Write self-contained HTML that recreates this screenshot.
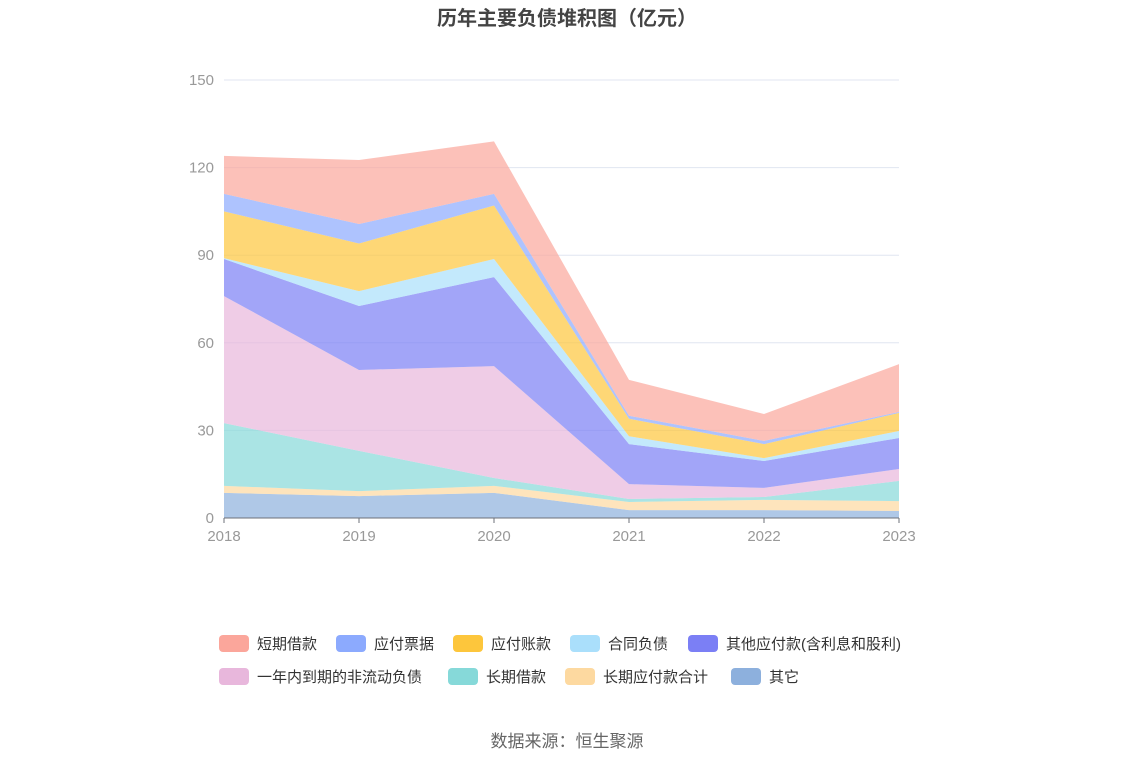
<!DOCTYPE html>
<html><head><meta charset="utf-8"><style>
body{margin:0;background:#fff;font-family:"Liberation Sans","Noto Sans CJK SC",sans-serif;}
#wrap{position:relative;width:1134px;height:766px;overflow:hidden;}
</style></head><body>
<div id="wrap">
<svg id="chart" width="1134" height="766">
<text x="567" y="25" text-anchor="middle" font-size="20" font-weight="bold" fill="#444" font-family="Liberation Sans,Noto Sans CJK SC,sans-serif">历年主要负债堆积图（亿元）</text>
<g id="grid"></g><g id="areas"></g><g id="axes"></g><g id="legend"></g>
<text x="567" y="747" text-anchor="middle" font-size="17" fill="#666" font-family="Liberation Sans,Noto Sans CJK SC,sans-serif">数据来源：恒生聚源</text>
</svg>
</div>
<script>
const years=["2018","2019","2020","2021","2022","2023"];
const yTicks=[0,30,60,90,120,150];
const seriesNames=["其它","长期应付款合计","长期借款","一年内到期的非流动负债","其他应付款(含利息和股利)","合同负债","应付账款","应付票据","短期借款"];
const s_qita=[8.6,7.5,8.6,2.7,2.7,2.4];
const s_cqyf=[2.4,1.7,2.4,2.8,3.5,3.4];
const s_cqjk=[21.5,13.8,2.7,1.0,1.0,6.9];
const s_ynn=[43.5,27.7,38.3,5.1,3.1,4.1];
const s_qtyf=[12.7,21.9,30.5,13.7,9.2,10.6];
const s_htfz=[0.3,5.1,6.2,2.7,1.0,2.4];
const s_yfzk=[16.0,16.3,18.3,6.0,4.8,6.2];
const s_yfpj=[6.0,6.7,4.0,1.0,1.1,0.3];
const s_dqjk=[13.0,21.9,18.0,12.3,9.2,16.4];
const seriesData=[s_qita,s_cqyf,s_cqjk,s_ynn,s_qtyf,s_htfz,s_yfzk,s_yfpj,s_dqjk];
const colors=["#8db0dd","#fdd9a0","#86d9d9","#e8b7dc","#7b7ff5","#aadffb","#fdc63c","#8caafe","#fba69b"];
const slugs=["other","long-term-payables","long-term-loans","current-noncurrent-liabilities","other-payables","contract-liabilities","accounts-payable","notes-payable","short-term-loans"];
const NS="http://www.w3.org/2000/svg";
const x0=224,x1=899,y0=518,y1=80,ymax=150;
const X=i=>x0+(x1-x0)*i/(years.length-1);
const Y=v=>y0-(y0-y1)*v/ymax;
function mk(t,a,p){const e=document.createElementNS(NS,t);for(const k in a)e.setAttribute(k,a[k]);p.appendChild(e);return e;}
const grid=document.getElementById('grid'),axes=document.getElementById('axes'),areas=document.getElementById('areas'),leg=document.getElementById('legend');
yTicks.forEach(v=>{
 if(v>0){const l=mk('line',{x1:x0,x2:x1,y1:Y(v),y2:Y(v),stroke:'#e0e6f1'},grid);
 
 }
 const t=mk('text',{x:214,y:Y(v)+5,'text-anchor':'end','font-size':15,fill:'#999'},axes);t.textContent=v;
 
 
});
let cum=years.map(()=>0);
seriesData.forEach((s,k)=>{
 const lo=cum.slice();cum=cum.map((c,i)=>c+s[i]);
 let d='M'+years.map((_,i)=>X(i)+','+Y(cum[i])).join('L');
 for(let i=years.length-1;i>=0;i--)d+='L'+X(i)+','+Y(lo[i]);
 const p=mk('path',{d:d+'Z',fill:colors[k],'fill-opacity':0.7},areas);
 
 
});
const ax=mk('line',{x1:x0,x2:x1,y1:y0,y2:y0,stroke:'#6e7079'},axes);


years.forEach((yr,i)=>{
 mk('line',{x1:X(i),x2:X(i),y1:y0,y2:y0+5,stroke:'#6e7079'},axes);
 const t=mk('text',{x:X(i),y:541,'text-anchor':'middle','font-size':15,fill:'#999'},axes);t.textContent=yr;
 
 
});
const legOrder=[8,7,6,5,4,3,2,1,0];
const legPos=[[219,643],[336,643],[453,643],[570,643],[688,643],[219,676],[448,676],[565,676],[731,676]];
legOrder.forEach((k,j)=>{
 const [lx,ly]=legPos[j];
 const g=mk('g',{},leg);
 
 
 mk('rect',{x:lx,y:ly-8,width:30,height:17,rx:4,fill:colors[k]},g);
 const t=mk('text',{x:lx+38,y:ly+6,'font-size':15,fill:'#333'},g);t.textContent=seriesNames[k];
});
</script>
</body></html>
